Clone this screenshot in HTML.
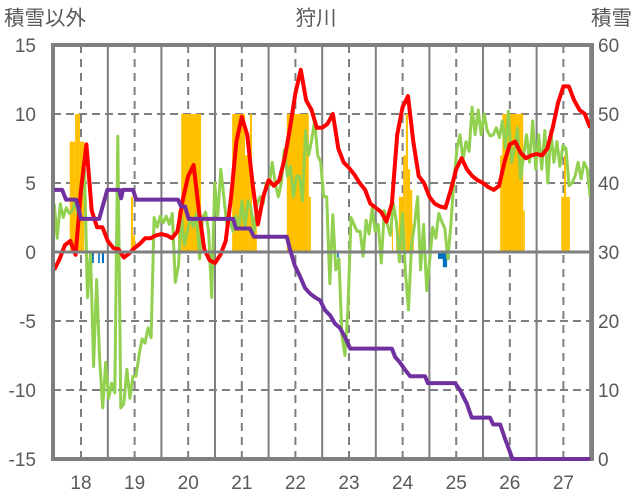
<!DOCTYPE html>
<html><head><meta charset="utf-8"><style>
body{margin:0;background:#fff;}
svg{display:block;font-family:"Liberation Sans","Noto Sans CJK JP",sans-serif;}
</style></head><body>
<svg id="chart" width="636" height="501">
<text x="4" y="25" font-size="20.5" fill="#595959">積雪以外</text>
<text x="316" y="25" font-size="20.5" fill="#595959" text-anchor="middle">狩川</text>
<text x="632" y="25" font-size="20.5" fill="#595959" text-anchor="end">積雪</text>
<g id="grid"></g><g id="marks"></g><g id="frame"></g><g id="top"></g><g id="labels"></g>
</svg>
<script>
const leftTicks=[15,10,5,0,-5,-10,-15];
const rightTicks=[60,50,40,30,20,10,0];
const xTicks=[18,19,20,21,22,23,24,25,26,27];
const redVals=[-1.3,-0.5,0.5,0.8,-0.2,4.5,7.8,3,1.8,1.8,0.8,0.3,0.2,-0.4,-0.1,0.3,0.6,1.0,1.0,1.2,1.3,1.2,1.0,1.5,3.8,5.5,6.3,3,0.2,-0.6,-0.8,-0.2,0.8,4,8,9.8,8.5,5,2,4,5.2,4.8,5.2,6.8,9,11.5,13.2,11,10.3,9,9,9.3,10,7.5,6.5,6.1,5.6,5.0,4.5,3.5,3.2,2.9,2.2,3.5,8.5,10.5,11.3,8,5.5,5,4,3.5,3.3,3.2,4.5,6,6.8,6,5.5,5.2,5,4.7,4.5,4.8,6.5,7.8,8,7.2,6.8,7,7.1,7,7.5,9,10.8,12,12,11,10.3,10,9];
const greenVals=[3.5,1,3.5,2.5,3.2,2.8,3,3.8,2.5,4,6,-3.3,0,-8.3,-2,-7.7,-11.3,-8,-10.6,-9.5,-10.2,8.4,-11.3,-11,-8.5,-10.6,-9,-9,-7.5,-6.3,-6.6,-5.5,-6.2,2.5,1.8,2.6,2.1,2.6,2,2.8,-2.2,-1,2.5,0.5,1.5,2.5,1.8,2.8,-0.5,2.5,2.9,1.5,-3.3,5,2.5,6,4,2,2.5,1.5,2.6,1.7,3.7,1.8,3.7,3.2,1.5,3.5,4,3.5,5,4.8,6.5,5,4,5,7.4,5.5,6.2,4,5.5,5.5,3.7,8.8,7,8.1,9.5,7,6.5,4,4,-2.3,2.7,-1.3,-0.5,-6,-7.5,-4.2,2.5,2,1.5,1.5,-0.3,2.3,1.3,3.2,1.5,2,-0.8,3,2,1.2,3.5,2.2,-0.7,2.8,-1.5,-4.2,0.5,2,4,-1.3,2,-2.8,-0.6,1.8,1,2.8,2.2,1.7,-0.5,2,5.2,7.5,8.5,6.7,8,7.3,10.5,8.5,10.3,8.5,10,8.8,8.4,8.5,9,8.3,9.5,7.5,10.2,6.5,7.5,9,5.3,7,8.5,6.5,9.5,6,8.5,6,8.8,5,8.8,6.5,8,6.2,7.7,7.5,4.8,5,5.5,6.5,5.3,6.5,6,4];
const purpleT=[17.5,17.65,17.72,17.91,18.0,18.34,18.41,18.49,18.71,18.75,18.78,18.97,19.03,19.81,19.87,19.94,20.01,20.84,20.89,21.15,21.23,21.84,21.9,21.99,22.09,22.18,22.27,22.37,22.46,22.55,22.65,22.74,22.83,22.93,23.02,23.8,23.86,23.95,24.04,24.14,24.42,24.47,24.98,25.07,25.2,25.29,25.63,25.69,25.82,25.9,26.05,27.5];
const purpleVals=[4.5,4.5,3.8,3.8,2.4,2.4,3.4,4.5,4.5,3.9,4.5,4.5,3.8,3.8,3.3,3.3,2.4,2.4,1.7,1.7,1.1,1.1,0.2,-1,-1.8,-2.6,-3,-3.3,-3.5,-4.2,-4.6,-5.2,-5.5,-6.2,-7,-7,-7.6,-8,-8.5,-9,-9,-9.5,-9.5,-10,-11,-12,-12,-12.5,-12.5,-13.4,-15,-15];
const snowStart=[17.79,17.89,17.98,18.93,18.97,19.81,19.87,20.82,21.06,21.15,21.19,21.84,22.25,23.8,23.88,23.93,24.01,24.06,24.1,24.14,24.18,25.82,25.86,26.25,26.96,27.01,27.05];
const snowEnd=[17.89,17.98,18.06,18.97,19.01,19.87,20.24,21.06,21.15,21.19,21.28,22.25,22.29,23.82,23.93,24.01,24.06,24.1,24.14,24.18,24.21,25.86,26.25,26.28,27.01,27.05,27.12];
const snowVals=[8,10,8,4,1.2,3,10,10,7,10,2.5,10,4,2,1.8,4,7,10,6,4.5,2,7,10,3,4,7,4];
const blueStart=[18.2,18.32,18.39,22.78,24.66,24.75];
const blueEnd=[18.24,18.35,18.43,22.81,24.88,24.83];
const blueVals=[-0.8,-0.8,-0.8,-0.4,-0.5,-1.1];

const X0=53,X1=592,Y0=45,Y1=459;
const xs=h=>81+(h-18)*53.6;
const ys=v=>252-v*13.8;
const NS='http://www.w3.org/2000/svg';
function mk(tag,attrs,parent){const e=document.createElementNS(NS,tag);for(const k in attrs)e.setAttribute(k,attrs[k]);parent.appendChild(e);return e;}
const grid=document.getElementById('grid'),marks=document.getElementById('marks'),frame=document.getElementById('frame'),topG=document.getElementById('top'),labels=document.getElementById('labels');

leftTicks.forEach(v=>{
  if(v!==0&&Math.abs(v)!==15){const l=mk('line',{x1:X0,x2:X1,y1:ys(v),y2:ys(v),stroke:'#7f7f7f','stroke-width':2,'stroke-dasharray':'8,5'},grid);
  
  }
  const t=mk('text',{x:36,y:ys(v)+7,'font-size':19,fill:'#595959','text-anchor':'end'},labels);t.textContent=v;
  
  
});
rightTicks.forEach((v,i)=>{
  const t=mk('text',{x:598,y:ys(leftTicks[i])+7,'font-size':19,fill:'#595959'},labels);t.textContent=v;
  
  
});
xTicks.forEach(h=>{
  const l=mk('line',{x1:xs(h),x2:xs(h),y1:Y0,y2:Y1,stroke:'#7f7f7f','stroke-width':2,'stroke-dasharray':'8,6'},grid);
  
  
  const s=mk('line',{x1:xs(h+0.5),x2:xs(h+0.5),y1:Y0,y2:Y1,stroke:'#7f7f7f','stroke-width':2},grid);
  
  
  const t=mk('text',{x:xs(h),y:489,'font-size':19,fill:'#595959','text-anchor':'middle'},labels);t.textContent=h;
  
  
});
snowVals.forEach((v,i)=>{
  const r=mk('rect',{x:xs(snowStart[i]),y:ys(v),width:xs(snowEnd[i])-xs(snowStart[i]),height:ys(0)-ys(v),fill:'#FFC000'},marks);
  
  
});
blueVals.forEach((v,i)=>{
  const r=mk('rect',{x:xs(blueStart[i]),y:ys(0),width:xs(blueEnd[i])-xs(blueStart[i]),height:ys(v)-ys(0),fill:'#0070C0'},marks);
  
  
});
function poly(ts,vals,color,w,name,parent){
  const p=mk('polyline',{points:vals.map((v,i)=>xs(ts[i]).toFixed(1)+','+ys(v).toFixed(1)).join(' '),fill:'none',stroke:color,'stroke-width':w,'stroke-linejoin':'round'},parent);
  
  
}
poly(greenVals.map((v,i)=>17.5+i*10/(greenVals.length-1)),greenVals,'#92D050',3,'green-series-line',marks);
poly(redVals.map((v,i)=>17.5+i*0.1),redVals,'#FF0000',4,'red-series-line',marks);
const z=mk('line',{x1:X0,x2:X1,y1:ys(0),y2:ys(0),stroke:'#7f7f7f','stroke-width':3},frame);


const b=mk('rect',{x:X0,y:Y0,width:X1-X0,height:Y1-Y0,fill:'none',stroke:'#7f7f7f','stroke-width':4},frame);


poly(purpleT,purpleVals,'#7030A0',4,'purple-series-line',topG);
</script>
</body></html>
